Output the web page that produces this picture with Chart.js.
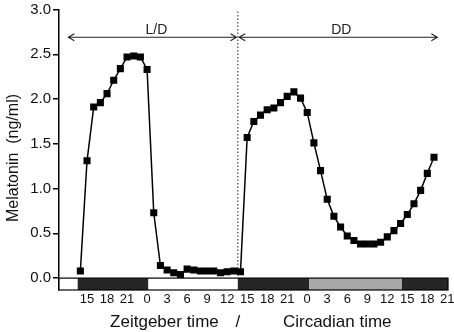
<!DOCTYPE html>
<html>
<head>
<meta charset="utf-8">
<script src="https://cdn.jsdelivr.net/npm/chart.js@4.4.1/dist/chart.umd.min.js"></script>
<style>
    html, body { margin: 0; padding: 0; background: #fff; }
    #wrap { width: 454px; height: 332px; position: relative; }
</style>
</head>
<body>
<div id="wrap"><canvas id="melChart"></canvas></div>
<script>
// Sampling time in hours, continuous (ZT24 = ZT0 next day, 48 = CT0)
const sampleHours = [
    14, 15, 16, 17, 18, 19, 20, 21, 22, 23, 24, 25, 26, 27, 28, 29, 30, 31,
    32, 33, 34, 35, 36, 37, 38, 39, 40, 41, 42, 43, 44, 45, 46, 47, 48, 49,
    50, 51, 52, 53, 54, 55, 56, 57, 58, 59, 60, 61, 62, 63, 64, 65, 66, 67
];
// Melatonin (ng/ml)
const melatonin = [
    0.08, 1.31, 1.91, 1.96, 2.06, 2.21, 2.34, 2.47, 2.48, 2.47, 2.33, 0.73, 0.14, 0.09, 0.06, 0.04, 0.10, 0.09,
    0.08, 0.08, 0.08, 0.06, 0.07, 0.08, 0.07, 1.57, 1.75, 1.82, 1.88, 1.90, 1.96, 2.03, 2.08, 2.01, 1.85, 1.51,
    1.20, 0.88, 0.69, 0.57, 0.47, 0.42, 0.38, 0.38, 0.38, 0.40, 0.46, 0.53, 0.61, 0.71, 0.83, 0.98, 1.17, 1.35
];

// x tick positions (hours) and their labels
const tickHours = [15, 18, 21, 24, 27, 30, 33, 36, 39, 42, 45, 48, 51, 54, 57, 60, 63, 66, 69];
const tickLabels = ["15", "18", "21", "0", "3", "6", "9", "12", "15", "18", "21", "0", "3", "6", "9", "12", "15", "18", "21"];
const yTicks = [0, 0.5, 1.0, 1.5, 2.0, 2.5, 3.0];

// light bar: start hour, end hour, colour
const barStarts = [10.8, 13.6, 24.2, 37.6, 48.3, 62.2];
const barEnds = [13.6, 24.2, 37.6, 48.3, 62.2, 69.1];
const barColors = ["#ffffff", "#262626", "#ffffff", "#262626", "#a8a8a8", "#262626"];

const switchHour = 37.6; // L/D -> DD
const FONT = "Arial, 'Liberation Sans', Helvetica, sans-serif";

// points for Chart.js
const points = sampleHours.map((h, i) => ({ x: h, y: melatonin[i] }));

// Draws light bar, dotted divider, arrows and titles
const decorPlugin = {
    id: "decor",
    beforeDatasetsDraw(chart) {
        const { ctx, chartArea, scales } = chart;
        const xs = scales.x, ys = scales.y;
        const y0 = ys.getPixelForValue(0);
        const yb = chartArea.bottom;

        ctx.save();
        // light/dark bar
        for (let i = 0; i < barStarts.length; i++) {
            const a = xs.getPixelForValue(barStarts[i]);
            const b = xs.getPixelForValue(barEnds[i]);
            ctx.fillStyle = barColors[i];
            ctx.fillRect(a, y0, b - a, yb - y0);
        }
        ctx.strokeStyle = "#000";
        ctx.lineWidth = 1.2;
        const xl = xs.getPixelForValue(barStarts[0]);
        const xr = xs.getPixelForValue(barEnds[barEnds.length - 1]);
        ctx.strokeRect(xl, y0, xr - xl, yb - y0);

        // dotted divider
        const xd = xs.getPixelForValue(switchHour);
        ctx.beginPath();
        ctx.setLineDash([1.5, 2]);
        ctx.strokeStyle = "#555";
        ctx.lineWidth = 1.3;
        ctx.moveTo(xd, chartArea.top + 2);
        ctx.lineTo(xd, y0);
        ctx.stroke();
        ctx.setLineDash([]);

        // arrows
        const ya = ys.getPixelForValue(2.69);
        const drawArrow = (h1, h2) => {
            const p1 = xs.getPixelForValue(h1);
            const p2 = xs.getPixelForValue(h2);
            ctx.beginPath();
            ctx.strokeStyle = "#222";
            ctx.lineWidth = 1.1;
            ctx.moveTo(p1, ya);
            ctx.lineTo(p2, ya);
            ctx.moveTo(p1 + 6, ya - 3.5);
            ctx.lineTo(p1, ya);
            ctx.lineTo(p1 + 6, ya + 3.5);
            ctx.moveTo(p2 - 6, ya - 3.5);
            ctx.lineTo(p2, ya);
            ctx.lineTo(p2 - 6, ya + 3.5);
            ctx.stroke();
        };
        drawArrow(12.2, 37.4);
        drawArrow(37.8, 67.5);

        ctx.fillStyle = "#222";
        ctx.font = "14px " + FONT;
        ctx.textAlign = "center";
        ctx.textBaseline = "alphabetic";
        ctx.fillText("L/D", xs.getPixelForValue(25.4), ya - 3);
        ctx.fillText("DD", xs.getPixelForValue(53.1), ya - 3);
        ctx.restore();
    },
    afterDraw(chart) {
        const { ctx, scales } = chart;
        const xs = scales.x;
        ctx.save();
        ctx.fillStyle = "#111";
        ctx.font = "17px " + FONT;
        ctx.textAlign = "center";
        ctx.textBaseline = "alphabetic";
        const yt = 327;
        ctx.fillText("Zeitgeber time", xs.getPixelForValue(26.6), yt);
        ctx.fillText("/", xs.getPixelForValue(switchHour), yt);
        ctx.fillText("Circadian time", xs.getPixelForValue(52.5), yt);

        // y title
        ctx.font = "16px " + FONT;
        ctx.translate(14, 158);
        ctx.rotate(-Math.PI / 2);
        ctx.textBaseline = "middle";
        ctx.fillText("Melatonin  (ng/ml)", 0, 0);
        ctx.restore();
    }
};

new Chart(document.getElementById("melChart").getContext("2d"), {
    type: "line",
    data: {
        datasets: [
            {
                label: "Melatonin",
                data: points,
                borderColor: "#000",
                backgroundColor: "#000",
                borderWidth: 1.5,
                tension: 0,
                pointStyle: "rect",
                pointRadius: 5,
                pointBorderWidth: 0,
                pointBackgroundColor: "#000"
            }
        ]
    },
    options: {
        responsive: true,
        maintainAspectRatio: false,
        animation: false,
        layout: { padding: { top: 7, right: 6, left: 0, bottom: 0 } },
        plugins: {
            legend: { display: false },
            tooltip: { enabled: false }
        },
        scales: {
            x: {
                type: "linear",
                min: 10.8,
                max: 69.1,
                afterBuildTicks: (scale) => {
                    scale.ticks = tickHours.map(v => ({ value: v }));
                },
                afterFit: (scale) => {
                    scale.height = 42;
                    scale.paddingLeft = 0;
                    scale.paddingRight = 0;
                },
                grid: { display: false, drawTicks: false },
                border: { display: false },
                ticks: {
                    autoSkip: false,
                    maxRotation: 0,
                    padding: 3,
                    color: "#111",
                    font: { family: FONT, size: 13, lineHeight: 1 },
                    callback: (v) => {
                        const i = tickHours.indexOf(v);
                        return i >= 0 ? tickLabels[i] : "";
                    }
                }
            },
            y: {
                min: -0.133,
                max: 3.0,
                afterBuildTicks: (scale) => {
                    scale.ticks = yTicks.map(v => ({ value: v }));
                },
                afterFit: (scale) => { scale.width = 59; },
                border: { display: true, color: "#000", width: 1.5 },
                grid: {
                    drawOnChartArea: false,
                    drawTicks: true,
                    tickLength: 6,
                    color: "#000",
                    lineWidth: 1.5
                },
                ticks: {
                    padding: 2,
                    color: "#111",
                    font: { family: FONT, size: 15, lineHeight: 1 },
                    callback: (v) => v.toFixed(1)
                }
            }
        }
    },
    plugins: [decorPlugin]
});
</script>
</body>
</html>
